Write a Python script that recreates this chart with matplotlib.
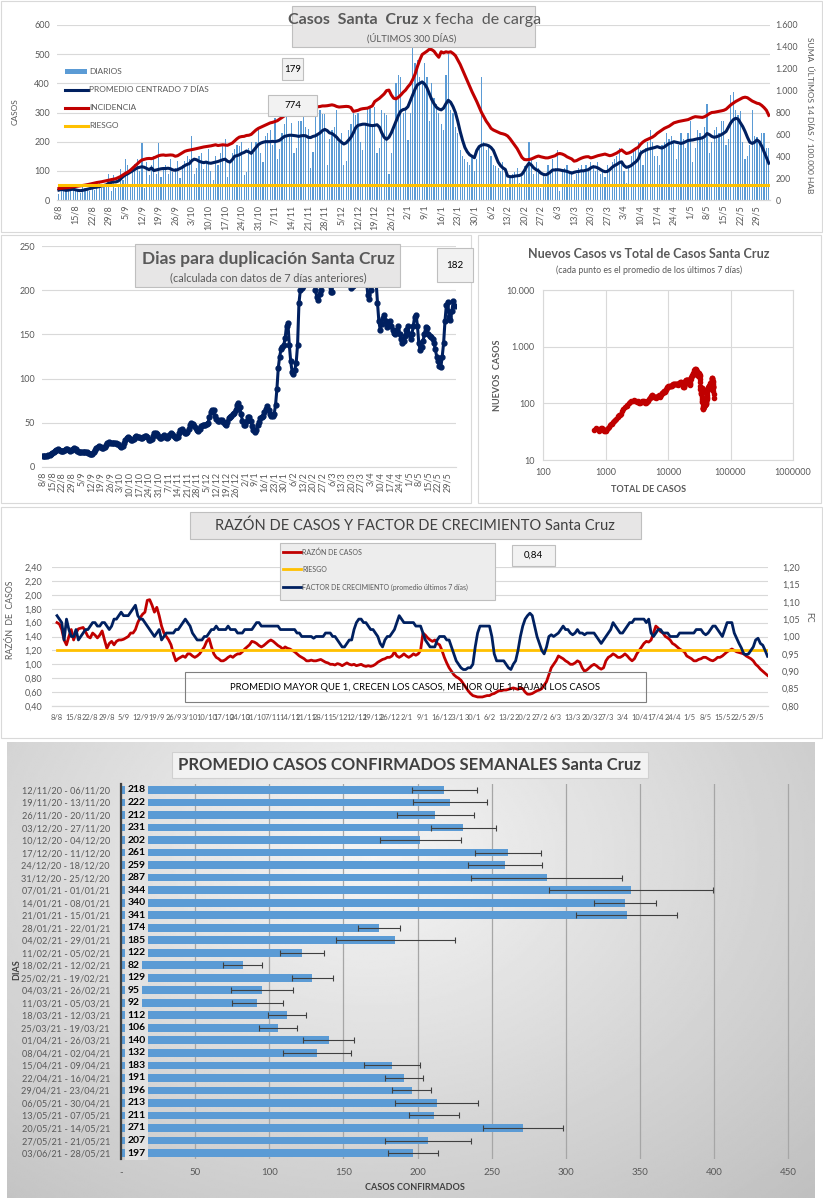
import numpy as np
import pandas as pd
import matplotlib
matplotlib.use("Agg")
import matplotlib.pyplot as plt
from matplotlib.patches import Rectangle
from matplotlib.lines import Line2D
from matplotlib.ticker import FuncFormatter, FixedLocator, NullLocator

plt.rcParams['font.family'] = ['Lato', 'DejaVu Sans']

FECHA_INICIO = "2020-08-08"
N_DIAS = 300

# casos diarios (eje izq), una fila por semana desde 8/8
diarios = [
    20, 40, 45, 38, 30, 35, 42,
    38, 30, 25, 45, 40, 35, 30,
    55, 35, 48, 65, 40, 50, 45,
    88, 30, 85, 40, 45, 105, 70,
    140, 120, 45, 100, 125, 140, 100,
    195, 40, 130, 85, 120, 150, 90,
    195, 80, 110, 120, 90, 140, 95,
    110, 135, 75, 120, 135, 150, 140,
    220, 90, 110, 150, 160, 105, 130,
    175, 100, 70, 150, 120, 160, 185,
    210, 80, 130, 160, 175, 190, 185,
    200, 85, 95, 180, 200, 160, 200,
    250, 160, 130, 220, 230, 240, 190,
    280, 140, 175, 230, 260, 300, 225,
    265, 160, 180, 270, 270, 285, 250,
    245, 110, 165, 330, 230, 310, 295,
    295, 120, 210, 240, 250, 310, 200,
    230, 120, 135, 240, 260, 300, 290,
    300, 200, 170, 260, 320, 315, 250,
    320, 160, 180, 310, 300, 290, 90,
    160, 240, 400, 430, 420, 300, 310,
    205, 300, 525, 470, 480, 420, 400,
    470, 420, 270, 400, 350, 330, 300,
    260, 240, 430, 500, 310, 300, 250,
    230, 170, 150, 140, 130, 120, 150,
    100, 140, 180, 420, 200, 170, 190,
    150, 120, 115, 110, 100, 130, 90,
    40, 80, 90, 95, 110, 60, 90,
    115, 120, 200, 140, 90, 130, 110,
    40, 85, 80, 120, 100, 140, 110,
    170, 30, 100, 110, 120, 95, 100,
    70, 90, 110, 120, 95, 120, 105,
    130, 120, 100, 130, 90, 100, 80,
    120, 110, 130, 140, 150, 180, 130,
    100, 60, 120, 150, 170, 180, 200,
    170, 120, 180, 200, 240, 200, 150,
    150, 120, 190, 200, 230, 210, 220,
    200, 140, 190, 230, 210, 180, 230,
    270, 130, 180, 240, 230, 210, 250,
    330, 160, 200, 240, 250, 230, 270,
    270, 190, 210, 360, 370, 310, 290,
    305, 200, 140, 150, 190, 310, 220,
    215, 200, 230, 230, 180, 179,
]

# promedio centrado 7 dias (eje izq)
promedio = [
    34, 36, 35, 33, 34, 36, 37,
    35, 33, 32, 33, 35, 37, 39,
    41, 43, 44, 46, 48, 50, 52,
    58, 60, 62, 62, 65, 72, 80,
    86, 90, 95, 100, 105, 110, 112,
    114, 112, 108, 104, 110, 101, 103,
    105, 107, 108, 108, 109, 107, 103,
    102, 104, 108, 112, 118, 122, 125,
    135, 140, 138, 133, 130, 128, 130,
    127, 126, 128, 130, 132, 135, 138,
    140, 133, 130, 138, 150, 152, 155,
    160, 163, 168, 165, 160, 170, 180,
    190, 195, 198, 200, 200, 200, 201,
    200, 202, 205, 212, 218, 220, 222,
    222, 221, 220, 218, 220, 221, 220,
    215, 214, 218, 220, 225, 230, 238,
    242, 238, 230, 228, 222, 215, 205,
    198, 192, 196, 205, 215, 230, 248,
    256, 258, 260, 260, 258, 256, 255,
    256, 258, 250, 230, 215, 208, 215,
    230, 250, 270, 290, 305, 310, 312,
    320, 340, 360, 380, 395, 400, 405,
    398, 385, 365, 345, 330, 318, 312,
    309, 315, 330, 342, 335, 320, 300,
    270, 235, 205, 180, 165, 155, 150,
    145, 170, 183, 188, 190, 189, 186,
    180, 170, 150, 130, 118, 110, 105,
    82, 80, 80, 82, 83, 84, 88,
    100, 115, 126, 120, 110, 104, 100,
    92, 88, 86, 90, 96, 103, 103,
    104, 103, 101, 100, 98, 95, 92,
    95, 97, 98, 100, 100, 102, 104,
    110, 114, 113, 110, 105, 100, 97,
    98, 104, 112, 118, 122, 128, 131,
    118, 112, 114, 118, 125, 131, 140,
    160, 166, 170, 174, 176, 178, 180,
    183, 180, 178, 182, 188, 194, 196,
    200, 198, 196, 194, 196, 200, 204,
    205, 206, 208, 210, 211, 213, 218,
    228, 224, 218, 215, 217, 220, 224,
    229, 235, 250, 265, 275, 280, 278,
    265, 252, 235, 215, 198, 194, 198,
    206, 200, 185, 165, 145, 126,
]

# incidencia: suma 14 dias / 100.000 hab (eje der)
incidencia = [
    105, 107, 110, 112, 114, 117, 120,
    122, 125, 128, 132, 136, 140, 145,
    150, 155, 160, 163, 167, 172, 178,
    183, 186, 190, 195, 205, 215, 230,
    244, 255, 270, 290, 310, 330, 350,
    366, 372, 378, 380, 378, 385, 395,
    405, 410, 412, 408, 410, 412, 410,
    400, 405, 418, 432, 445, 452, 456,
    460, 465, 470, 475, 480, 485, 488,
    490, 495, 500, 505, 498, 502, 505,
    503, 500, 510, 520, 540, 560, 575,
    580, 582, 590, 592, 600, 620, 640,
    655, 665, 675, 685, 695, 705, 710,
    717, 725, 740, 755, 770, 785, 800,
    815, 825, 832, 838, 842, 845, 848,
    845, 843, 846, 850, 852, 855, 860,
    860, 862, 866, 870, 865, 855, 850,
    852, 855, 856, 854, 845, 810, 815,
    820, 830, 835, 838, 840, 850, 860,
    900, 915, 930, 950, 970, 1000, 1005,
    960, 930, 925, 940, 960, 985, 1005,
    1035, 1060, 1100, 1150, 1220, 1280, 1330,
    1345, 1360, 1378, 1375, 1360, 1330, 1305,
    1355, 1345, 1355, 1350, 1355, 1340, 1320,
    1280, 1240, 1190, 1140, 1090, 1040, 990,
    945, 900, 850, 800, 760, 720, 690,
    655, 640, 630, 620, 610, 605, 598,
    585, 560, 530, 500, 470, 430, 390,
    370, 368, 370, 375, 385, 395, 402,
    395, 390, 385, 385, 392, 400, 405,
    421, 425, 420, 410, 395, 385, 375,
    355, 360, 372, 382, 390, 395, 396,
    385, 390, 398, 405, 410, 415, 420,
    412, 405, 410, 420, 430, 445, 458,
    440, 425, 430, 440, 455, 470, 482,
    510, 530, 545, 555, 565, 575, 590,
    610, 625, 640, 655, 665, 675, 690,
    705, 712, 718, 722, 726, 730, 735,
    745, 755, 762, 760, 758, 755, 762,
    775, 790, 800, 802, 806, 810, 815,
    820, 830, 850, 870, 885, 900, 912,
    925, 935, 940, 935, 920, 905, 895,
    885, 880, 865, 845, 820, 774,
]
riesgo_inc = 140

# dias para duplicacion
duplicacion = [
    13, 12, 12, 13, 14, 14, 15,
    16, 17, 18, 19, 20, 19, 18,
    18, 18, 19, 20, 20, 19, 18,
    19, 20, 21, 20, 18, 17, 17,
    17, 17, 17, 17, 17, 16, 15,
    15, 15, 17, 19, 21, 23, 24,
    23, 22, 22, 23, 25, 27, 28,
    27, 27, 27, 27, 27, 26, 26,
    24, 23, 24, 27, 30, 33, 34,
    33, 31, 30, 32, 34, 35, 34,
    34, 33, 33, 34, 35, 35, 34,
    31, 30, 32, 35, 38, 39, 37,
    35, 33, 33, 35, 36, 34, 33,
    34, 36, 38, 37, 35, 34, 33,
    34, 38, 42, 43, 41, 39, 39,
    40, 43, 48, 50, 49, 46, 44,
    42, 41, 43, 46, 48, 48, 48,
    49, 50, 56, 62, 65, 64, 58,
    54, 52, 52, 53, 53, 51, 49,
    48, 51, 55, 57, 58, 60, 61,
    65, 70, 72, 68, 60, 52, 48,
    47, 52, 56, 57, 52, 46, 42,
    40, 42, 47, 51, 55, 57, 58,
    62, 66, 69, 65, 60, 58, 58,
    60, 70, 88, 112, 125, 133, 136,
    138, 146, 160, 163, 138, 120, 108,
    105, 110, 118, 138, 185, 200, 203,
    205, 210, 230, 260, 290, 320, 300,
    230, 215, 200, 192, 189, 196, 200,
    215, 240, 260, 250, 230, 210, 198,
    198, 215, 240, 270, 290, 300, 290,
    280, 270, 260, 250, 240, 225, 210,
    203, 205, 215, 230, 250, 260, 270,
    265, 250, 240, 225, 210, 195, 190,
    200, 215, 230, 220, 210, 186, 165,
    155, 162, 168, 172, 165, 158, 163,
    165, 160, 155, 152, 150, 155, 160,
    150, 145, 140, 142, 148, 155, 160,
    150, 145, 150, 160, 170, 172, 160,
    140, 132, 136, 142, 150, 158, 157,
    150, 148, 147, 145, 140, 133, 125,
    120, 114, 113, 125, 140, 165, 183,
    187, 170, 166, 176, 188, 182,
]

# casos acumulados al 8/8 (para el grafico log-log)
total_inicial = 640

# razon de casos (eje izq) y factor de crecimiento (eje der)
razon = [
    1.60, 1.58, 1.50, 1.35, 1.28, 1.40, 1.50,
    1.35, 1.45, 1.51, 1.52, 1.53, 1.47, 1.40,
    1.38, 1.45, 1.42, 1.38, 1.42, 1.48, 1.35,
    1.23, 1.30, 1.33, 1.28, 1.33, 1.35, 1.35,
    1.36, 1.38, 1.40, 1.45, 1.45, 1.50, 1.60,
    1.67, 1.72, 1.75, 1.92, 1.93, 1.85, 1.75,
    1.82, 1.70, 1.55, 1.45, 1.40, 1.35, 1.28,
    1.15, 1.05, 1.08, 1.10, 1.12, 1.10, 1.15,
    1.15, 1.12, 1.10, 1.12, 1.15, 1.20, 1.25,
    1.33, 1.37, 1.25, 1.15, 1.10, 1.08, 1.05,
    1.05, 1.07, 1.10, 1.12, 1.10, 1.13, 1.15,
    1.15, 1.18, 1.22, 1.25, 1.28, 1.33, 1.32,
    1.30, 1.27, 1.25, 1.27, 1.30, 1.33, 1.35,
    1.33, 1.30, 1.27, 1.25, 1.22, 1.25, 1.23,
    1.22, 1.20, 1.18, 1.15, 1.12, 1.10, 1.08,
    1.05, 1.05, 1.06, 1.05, 1.05, 1.06, 1.07,
    1.05, 1.03, 1.02, 1.00, 1.00, 0.99, 1.01,
    1.00, 0.98, 1.00, 1.02, 1.00, 0.99, 1.00,
    0.98, 0.99, 1.00, 0.98, 0.97, 0.98, 0.97,
    0.98, 1.00, 1.03, 1.05, 1.07, 1.08, 1.10,
    1.10, 1.12, 1.18, 1.12, 1.10, 1.12, 1.15,
    1.12, 1.10, 1.12, 1.15, 1.13, 1.15, 1.20,
    1.45, 1.42, 1.38, 1.35, 1.33, 1.35, 1.30,
    1.28, 1.20, 1.10, 1.02, 0.95, 0.90, 0.85,
    0.82, 0.80, 0.77, 0.72, 0.67, 0.62, 0.58,
    0.55, 0.54, 0.53, 0.53, 0.53, 0.54, 0.55,
    0.55, 0.57, 0.58, 0.60, 0.62, 0.62, 0.63,
    0.63, 0.64, 0.65, 0.66, 0.65, 0.64, 0.66,
    0.65, 0.60, 0.57, 0.57, 0.58, 0.60, 0.62,
    0.63, 0.65, 0.70, 0.75, 0.85, 0.95, 1.00,
    1.05, 1.12, 1.10, 1.08, 1.05, 1.03, 1.00,
    1.00, 1.02, 1.05, 1.03, 0.95, 0.90, 0.92,
    0.95, 0.98, 1.00, 0.98, 0.95, 0.93, 0.95,
    1.05, 1.10, 1.12, 1.15, 1.13, 1.10, 1.10,
    1.12, 1.15, 1.12, 1.08, 1.05, 1.08, 1.15,
    1.20, 1.25, 1.30, 1.33, 1.32, 1.35, 1.45,
    1.55, 1.52, 1.47, 1.45, 1.40, 1.38, 1.35,
    1.30, 1.28, 1.25, 1.22, 1.20, 1.18, 1.12,
    1.10, 1.08, 1.05, 1.05, 1.07, 1.08, 1.10,
    1.10, 1.08, 1.06, 1.05, 1.07, 1.10, 1.10,
    1.12, 1.15, 1.18, 1.20, 1.22, 1.20, 1.18,
    1.17, 1.16, 1.15, 1.12, 1.10, 1.08, 1.05,
    1.00, 0.97, 0.93, 0.90, 0.87, 0.84,
]
riesgo_razon = 1.20

factor = [
    1.06, 1.05, 1.04, 0.99, 1.05, 1.02, 1.00,
    1.00, 1.02, 0.99, 1.00, 1.01, 1.02, 1.02,
    1.03, 1.04, 1.04, 1.03, 1.03, 1.04, 1.04,
    1.03, 1.02, 1.03, 1.05, 1.05, 1.06, 1.07,
    1.06, 1.06, 1.06, 1.07, 1.08, 1.09, 1.06,
    1.05, 1.05, 1.04, 1.03, 1.02, 1.01, 1.00,
    1.01, 1.02, 0.99, 1.00, 1.01, 1.01, 1.01,
    1.01, 1.02, 1.02, 1.03, 1.04, 1.05, 1.04,
    1.03, 1.01, 1.00, 0.99, 0.99, 0.99, 1.00,
    1.00, 1.01, 1.02, 1.02, 1.03, 1.02, 1.02,
    1.02, 1.02, 1.03, 1.02, 1.02, 1.02, 1.01,
    1.01, 1.01, 1.02, 1.02, 1.02, 1.02, 1.03,
    1.04, 1.04, 1.03, 1.03, 1.03, 1.03, 1.03,
    1.03, 1.03, 1.03, 1.02, 1.02, 1.02, 1.02,
    1.02, 1.02, 1.02, 1.01, 1.01, 1.00, 1.00,
    1.00, 1.00, 1.00, 0.995, 1.00, 1.00, 1.00,
    1.00, 1.01, 1.01, 1.01, 1.00, 1.00, 0.99,
    0.98, 0.97, 0.97, 0.98, 0.99, 0.99, 1.02,
    1.04, 1.05, 1.05, 1.04, 1.04, 1.03, 1.02,
    1.02, 1.01, 1.00, 0.98, 0.97, 0.99, 1.00,
    1.00, 1.01, 1.02, 1.04, 1.06, 1.05, 1.04,
    1.04, 1.04, 1.04, 1.04, 1.03, 1.03, 1.03,
    1.01, 0.99, 0.98, 0.97, 0.97, 0.97, 0.99,
    1.00, 1.00, 1.00, 0.99, 0.99, 0.97, 0.95,
    0.93, 0.92, 0.91, 0.905, 0.905, 0.91, 0.91,
    0.92, 0.97, 1.01, 1.03, 1.03, 1.03, 1.03,
    1.03, 1.00, 0.95, 0.93, 0.93, 0.93, 0.93,
    0.92, 0.91, 0.905, 0.92, 0.93, 0.96, 1.00,
    1.03, 1.05, 1.06, 1.067, 1.06, 1.03, 1.00,
    0.98, 0.96, 0.95, 0.97, 1.00, 1.005, 1.00,
    1.005, 1.01, 1.02, 1.03, 1.02, 1.02, 1.01,
    1.005, 1.01, 1.02, 1.01, 1.01, 1.005, 1.01,
    1.01, 1.01, 1.01, 1.00, 0.99, 0.98, 0.99,
    1.00, 1.01, 1.02, 1.04, 1.03, 1.02, 1.01,
    1.01, 1.02, 1.03, 1.04, 1.04, 1.05, 1.05,
    1.05, 1.05, 1.05, 1.04, 1.05, 1.01, 1.00,
    1.01, 1.02, 1.02, 1.01, 1.01, 1.01, 1.00,
    1.00, 1.00, 1.00, 1.01, 1.01, 1.01, 1.01,
    1.01, 1.01, 1.01, 1.02, 1.02, 1.02, 1.01,
    1.005, 1.01, 1.02, 1.03, 1.03, 1.02, 1.01,
    1.00, 1.02, 1.04, 1.04, 1.04, 1.01, 0.995,
    0.98, 0.967, 0.95, 0.948, 0.95, 0.96, 0.97,
    0.99, 0.995, 0.98, 0.975, 0.96, 0.943,
]

# promedio semanal
semanas = [
    "12/11/20 - 06/11/20", "19/11/20 - 13/11/20", "26/11/20 - 20/11/20",
    "03/12/20 - 27/11/20", "10/12/20 - 04/12/20", "17/12/20 - 11/12/20",
    "24/12/20 - 18/12/20", "31/12/20 - 25/12/20", "07/01/21 - 01/01/21",
    "14/01/21 - 08/01/21", "21/01/21 - 15/01/21", "28/01/21 - 22/01/21",
    "04/02/21 - 29/01/21", "11/02/21 - 05/02/21", "18/02/21 - 12/02/21",
    "25/02/21 - 19/02/21", "04/03/21 - 26/02/21", "11/03/21 - 05/03/21",
    "18/03/21 - 12/03/21", "25/03/21 - 19/03/21", "01/04/21 - 26/03/21",
    "08/04/21 - 02/04/21", "15/04/21 - 09/04/21", "22/04/21 - 16/04/21",
    "29/04/21 - 23/04/21", "06/05/21 - 30/04/21", "13/05/21 - 07/05/21",
    "20/05/21 - 14/05/21", "27/05/21 - 21/05/21", "03/06/21 - 28/05/21",
]
promedio_semanal = [218, 222, 212, 231, 202, 261, 259, 287, 344, 340, 341, 174, 185, 122, 82,
                    129, 95, 92, 112, 106, 140, 132, 183, 191, 196, 213, 211, 271, 207, 197]
error_semanal = [22, 25, 26, 22, 27, 22, 25, 51, 55, 21, 34, 14, 40, 15, 13,
                 14, 21, 17, 13, 13, 17, 23, 19, 13, 13, 28, 17, 27, 29, 17]

AZUL_BARRA = "#5b9bd5"
AZUL = "#002060"
ROJO = "#c00000"
AMARILLO = "#ffc000"
GRIS_TXT = "#595959"
GRILLA = "#d9d9d9"

W, H = 823, 1200
fig = plt.figure(figsize=(W / 100, H / 100), dpi=100)


def ejes(x0, y0, x1, y1, **kw):
    return fig.add_axes([x0 / W, 1 - y1 / H, (x1 - x0) / W, (y1 - y0) / H], **kw)


def caja(x0, y0, x1, y1, fc="#e7e6e6", ec="#bfbfbf", lw=0.8, z=2):
    fig.patches.append(Rectangle((x0 / W, 1 - y1 / H), (x1 - x0) / W, (y1 - y0) / H,
                                 transform=fig.transFigure, facecolor=fc, edgecolor=ec,
                                 lw=lw, zorder=z))


def texto(x, y, s, **kw):
    kw.setdefault("ha", "center")
    kw.setdefault("va", "center")
    kw.setdefault("zorder", 3)
    kw.setdefault("color", GRIS_TXT)
    return fig.text(x / W, 1 - y / H, s, **kw)


def linea(x0, x1, y, color, lw=2.2):
    fig.add_artist(Line2D([x0 / W, x1 / W], [1 - y / H, 1 - y / H],
                          transform=fig.transFigure, color=color, lw=lw, zorder=3))


def limpiar(ax):
    for s in ["top", "right", "left"]:
        ax.spines[s].set_visible(False)
    ax.spines["bottom"].set_color(GRILLA)
    ax.tick_params(colors=GRIS_TXT, labelsize=6.5, length=0)


def coma(v, p):
    return f"{v:.2f}".replace(".", ",")


def miles(v, p):
    return f"{int(round(v)):,}".replace(",", ".")


dias = np.arange(N_DIAS)
fechas = pd.date_range(FECHA_INICIO, periods=N_DIAS, freq="D")
ticks_sem = np.arange(0, N_DIAS, 7)
etq_sem = [f"{fechas[i].day}/{fechas[i].month}" for i in ticks_sem]

# marcos de paneles
caja(1, 1, 822, 232, fc="white", ec=GRILLA, z=-2)
caja(1, 235, 471, 503, fc="white", ec=GRILLA, z=-2)
caja(478, 235, 821, 503, fc="white", ec=GRILLA, z=-2)
caja(1, 507, 822, 738, fc="white", ec=GRILLA, z=-2)

# ---------- 1. Casos diarios ----------
ax1 = ejes(57, 25, 770, 200)
ax1r = ax1.twinx()
ax1.bar(dias, diarios, width=0.5, color=AZUL_BARRA, zorder=2)
ax1.plot(dias, promedio, color=AZUL, lw=2.2, zorder=3)
ax1r.plot(dias, incidencia, color=ROJO, lw=2.2)
ax1r.plot(dias, [riesgo_inc] * N_DIAS, color=AMARILLO, lw=2.2)
ax1.set_xlim(-0.8, 299.5)
ax1.set_ylim(0, 600)
ax1r.set_ylim(0, 1600)
ax1.yaxis.set_major_locator(FixedLocator(range(0, 601, 100)))
ax1r.yaxis.set_major_locator(FixedLocator(range(0, 1601, 200)))
ax1r.yaxis.set_major_formatter(FuncFormatter(miles))
ax1.yaxis.grid(True, color=GRILLA, lw=0.8)
ax1.set_axisbelow(True)
ax1.set_xticks(ticks_sem)
ax1.set_xticklabels(etq_sem, rotation=90)
for a in (ax1, ax1r):
    limpiar(a)
ax1.tick_params(axis="y", pad=5)
ax1r.tick_params(labelsize=6.3, pad=4)

caja(292, 6, 535, 47)
texto(418, 20, "Casos  Santa  Cruz", ha="right", fontsize=11.5, fontweight="bold")
texto(423, 20, "x fecha  de carga", ha="left", fontsize=11.5)
texto(412, 38, "(ÚLTIMOS 300 DÍAS)", fontsize=6.8)
caja(282, 58, 303, 80, fc="#f2f2f2")
texto(292.5, 69, "179", fontsize=7, color="#000000")
caja(268, 95, 317, 116, fc="#f2f2f2")
texto(292.5, 105.5, "774", fontsize=7, color="#000000")
texto(15, 112, "CASOS", rotation=90, fontsize=6)
texto(810, 115, "SUMA  ÚLTIMOS 14 DÍAS / 100.000 HAB", rotation=270, fontsize=6)

fig.patches.append(Rectangle((65 / W, 1 - 74 / H), 22 / W, 5 / H, transform=fig.transFigure,
                             facecolor=AZUL_BARRA, edgecolor="none", zorder=3))
linea(65, 88, 89.5, AZUL)
linea(65, 88, 108, ROJO)
linea(65, 88, 126, AMARILLO)
for yy, s in zip([71.5, 89.5, 108, 126],
                 ["DIARIOS", "PROMEDIO CENTRADO 7 DÍAS", "INCIDENCIA", "RIESGO"]):
    texto(89, yy, s, ha="left", fontsize=6)

# ---------- 2. Dias para duplicacion ----------
ax2 = ejes(42, 246, 456, 467)
ax2.plot(dias, duplicacion, "o-", color=AZUL, lw=2.2, ms=3.5)
ax2.set_xlim(-0.5, 300)
ax2.set_ylim(0, 250)
ax2.yaxis.set_major_locator(FixedLocator(range(0, 251, 50)))
ax2.yaxis.grid(True, color=GRILLA, lw=0.8)
ax2.set_axisbelow(True)
ax2.set_xticks(ticks_sem)
ax2.set_xticklabels(etq_sem, rotation=90)
limpiar(ax2)
ax2.tick_params(axis="y", pad=5)

caja(135, 244, 400, 287)
texto(268, 259, "Dias para duplicación Santa Cruz", fontsize=12.5, fontweight="bold")
texto(268, 278, "(calculada con datos de 7 días anteriores)", fontsize=7.8)
caja(437, 248, 473, 282, fc="#f2f2f2")
texto(455, 265, "182", fontsize=7, color="#000000")

# ---------- 3. Nuevos vs total ----------
total = total_inicial + np.cumsum(diarios)
ax3 = ejes(543, 290, 793, 460)
ax3.plot(total, promedio, "o-", color=ROJO, lw=1.5, ms=3)
ax3.set_xscale("log")
ax3.set_yscale("log")
ax3.set_xlim(100, 1e6)
ax3.set_ylim(10, 1e4)
ax3.xaxis.set_major_locator(FixedLocator([100, 1000, 10000, 100000, 1000000]))
ax3.yaxis.set_major_locator(FixedLocator([10, 100, 1000, 10000]))
ax3.xaxis.set_minor_locator(NullLocator())
ax3.yaxis.set_minor_locator(NullLocator())
ax3.xaxis.set_major_formatter(FuncFormatter(lambda v, p: f"{int(v)}"))
ax3.yaxis.set_major_formatter(FuncFormatter(miles))
ax3.grid(True, color=GRILLA, lw=0.8)
ax3.set_axisbelow(True)
for s in ax3.spines.values():
    s.set_color(GRILLA)
ax3.tick_params(colors=GRIS_TXT, labelsize=6.5, length=0, pad=6)
texto(649, 254, "Nuevos Casos vs Total de Casos Santa Cruz", fontsize=9, fontweight="bold")
texto(649, 270, "(cada punto es el promedio de los últimos 7 días)", fontsize=6.3)
texto(649, 489, "TOTAL DE CASOS", fontsize=6.5, fontweight="bold")
texto(498, 375, "NUEVOS  CASOS", rotation=90, fontsize=6.5, fontweight="bold")

# ---------- 4. Razon de casos y FC ----------
ax4 = ejes(52, 567, 768, 706)
ax4r = ax4.twinx()
ax4.plot(dias, razon, color=ROJO, lw=2)
ax4.plot(dias, [riesgo_razon] * N_DIAS, color=AMARILLO, lw=2)
ax4r.plot(dias, factor, color=AZUL, lw=2)
ax4.set_xlim(-2.1, 299.2)
ax4.set_ylim(0.4, 2.4)
ax4r.set_ylim(0.8, 1.2)
ax4.yaxis.set_major_locator(FixedLocator(np.arange(0.4, 2.41, 0.2)))
ax4r.yaxis.set_major_locator(FixedLocator(np.arange(0.8, 1.201, 0.05)))
ax4.yaxis.set_major_formatter(FuncFormatter(coma))
ax4r.yaxis.set_major_formatter(FuncFormatter(coma))
ax4.yaxis.grid(True, color=GRILLA, lw=0.8)
ax4.set_axisbelow(True)
ax4.set_xticks(ticks_sem)
ax4.set_xticklabels(etq_sem)
for a in (ax4, ax4r):
    limpiar(a)
ax4.tick_params(axis="x", labelsize=5.4, pad=6)
ax4.tick_params(axis="y", pad=7)
ax4r.tick_params(pad=10)

caja(190, 512, 641, 539)
texto(415, 526, "RAZÓN DE CASOS Y FACTOR DE CRECIMIENTO Santa Cruz", fontsize=10.5, color="#404040")
caja(280, 543, 495, 600, fc="#ededed")
linea(283, 301, 552, ROJO, lw=2)
linea(283, 301, 569, AMARILLO, lw=2)
linea(283, 301, 587, AZUL, lw=2)
texto(302, 552, "RAZÓN DE CASOS", ha="left", fontsize=5)
texto(302, 569, "RIESGO", ha="left", fontsize=5)
texto(302, 587, "FACTOR DE CRECIMIENTO (promedio últimos 7 días)", ha="left", fontsize=5)
caja(512, 545, 555, 566, fc="#f2f2f2")
texto(533.5, 555.5, "0,84", fontsize=7, color="#000000")
caja(185, 672, 646, 702, fc="none", ec="#7f7f7f", z=2)
texto(415, 687, "PROMEDIO MAYOR QUE 1, CRECEN LOS CASOS, MENOR QUE 1, BAJAN LOS CASOS",
      fontsize=6.8, color="#000000")
texto(11, 620, "RAZÓN  DE  CASOS", rotation=90, fontsize=6.3)
texto(809, 617, "FC", rotation=270, fontsize=6.3)

# ---------- 5. Promedio semanal ----------
fondo = ejes(7, 742, 815, 1198)
fondo.set_zorder(-1)
gy, gx = np.mgrid[0:1:240j, 0:1:400j]
radio = np.sqrt(((gx - 0.45) / 0.75) ** 2 + ((gy - 0.25) / 1.0) ** 2)
fondo.imshow(0.96 - 0.2 * radio, cmap="gray", vmin=0, vmax=1, aspect="auto",
             extent=[0, 1, 1, 0], interpolation="bilinear")
fondo.axis("off")

ax5 = ejes(121, 783.7, 803, 1159.3)
ax5.set_facecolor("none")
pos = np.arange(len(semanas))
ax5.barh(pos, promedio_semanal, height=0.62, color=AZUL_BARRA, xerr=error_semanal,
         error_kw=dict(ecolor="#404040", elinewidth=0.8, capsize=2, capthick=0.8), zorder=2)
for i, v in enumerate(promedio_semanal):
    ax5.text(4.5, i, f"{v}", fontsize=7.5, fontweight="bold", va="center", ha="left",
             color="#000000", zorder=4,
             bbox=dict(boxstyle="square,pad=0.22", fc="#e2e2e2", ec="none"))
ax5.set_ylim(len(semanas) - 0.5, -0.5)
ax5.set_xlim(0, 460)
ax5.set_yticks(pos)
ax5.set_yticklabels(semanas)
ax5.xaxis.set_major_locator(FixedLocator(range(0, 451, 50)))
ax5.set_xticklabels(["-"] + [str(v) for v in range(50, 451, 50)])
ax5.xaxis.grid(True, color="#a6a6a6", lw=0.9)
ax5.set_axisbelow(True)
for s in ["top", "right", "bottom"]:
    ax5.spines[s].set_visible(False)
ax5.spines["left"].set_color("#404040")
ax5.spines["left"].set_linewidth(1.6)
ax5.tick_params(colors=GRIS_TXT, length=0, labelsize=7)
ax5.tick_params(axis="y", labelsize=6.6, pad=8)
ax5.tick_params(axis="x", pad=6)
caja(172, 752, 648, 778, fc="#f2f2f2", ec="#d0d0d0")
texto(410, 765, "PROMEDIO CASOS CONFIRMADOS SEMANALES Santa Cruz", fontsize=12,
      fontweight="bold", color="#404040")
texto(415, 1187, "CASOS CONFIRMADOS", fontsize=6.5, fontweight="bold", color="#404040")
texto(17, 970, "DIAS", rotation=90, fontsize=6.5, fontweight="bold", color="#404040")

fig.savefig("out.png", dpi=100)
